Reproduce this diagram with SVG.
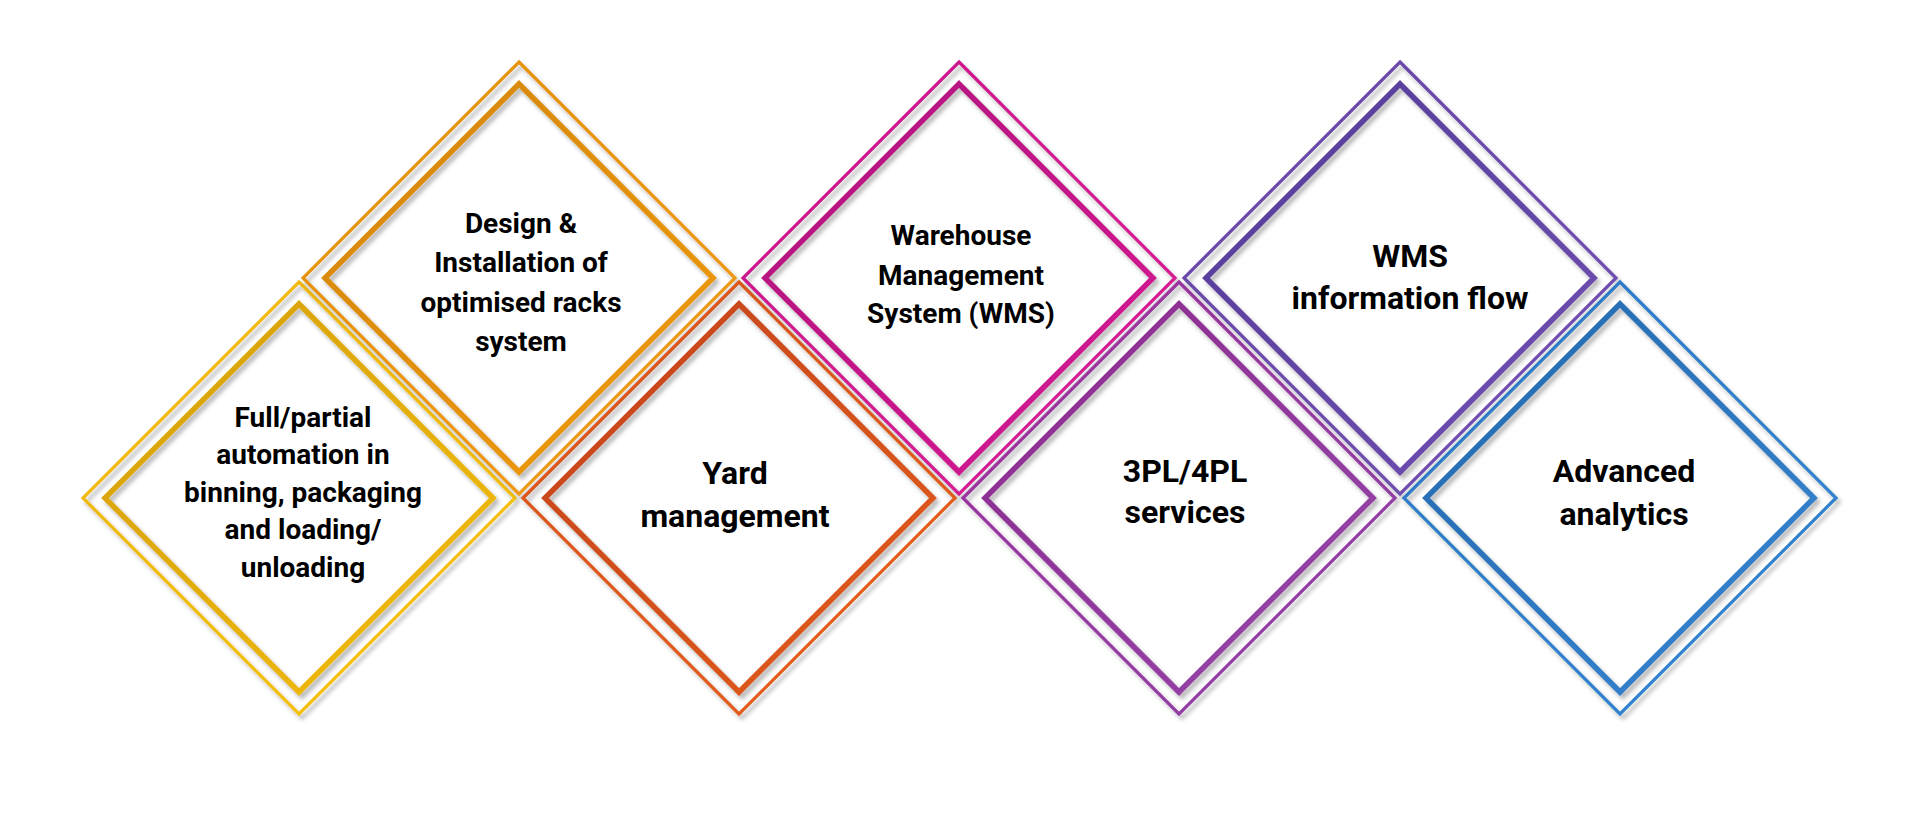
<svg xmlns="http://www.w3.org/2000/svg" xmlns:xlink="http://www.w3.org/1999/xlink" width="1920" height="827" viewBox="0 0 1920 827">
<style>
.outer{fill:none;stroke-width:3.2;stroke-linejoin:miter;filter:url(#sh)}
.inner{fill:none;stroke-width:5.5;stroke-linejoin:miter;filter:url(#sh)}
.t{font-family:Roboto,"Liberation Sans",sans-serif;font-weight:700;fill:#000;text-anchor:middle}
.s{font-size:28px}
.l{font-size:32px}
</style>
<defs>
<filter id="sh" x="-10%" y="-10%" width="125%" height="125%">
<feDropShadow dx="3" dy="4" stdDeviation="2" flood-color="#000" flood-opacity="0.28"/>
</filter>
<path id="dO" d="M0,-216 L216,0 L0,216 L-216,0 Z"/>
<path id="dI" d="M0,-194 L194,0 L0,194 L-194,0 Z"/>
<linearGradient id="g1o" x1="0" y1="0" x2="1" y2="1"><stop offset="0" stop-color="#EDB512"/><stop offset="1" stop-color="#F6C210"/></linearGradient>
<linearGradient id="g1i" x1="0" y1="0" x2="1" y2="1"><stop offset="0" stop-color="#D49E0C"/><stop offset="1" stop-color="#F4BC0E"/></linearGradient>
<linearGradient id="g2o" x1="0" y1="0" x2="1" y2="1"><stop offset="0" stop-color="#E2900F"/><stop offset="1" stop-color="#F09A14"/></linearGradient>
<linearGradient id="g2i" x1="0" y1="0" x2="1" y2="1"><stop offset="0" stop-color="#D3850B"/><stop offset="1" stop-color="#F09B12"/></linearGradient>
<linearGradient id="g3o" x1="0" y1="0" x2="1" y2="1"><stop offset="0" stop-color="#D9531C"/><stop offset="1" stop-color="#E55E1E"/></linearGradient>
<linearGradient id="g3i" x1="0" y1="0" x2="1" y2="1"><stop offset="0" stop-color="#C2441A"/><stop offset="1" stop-color="#E45C1E"/></linearGradient>
<linearGradient id="g4o" x1="0" y1="0" x2="1" y2="1"><stop offset="0" stop-color="#C8178A"/><stop offset="1" stop-color="#D81E95"/></linearGradient>
<linearGradient id="g4i" x1="0" y1="0" x2="1" y2="1"><stop offset="0" stop-color="#AE127C"/><stop offset="1" stop-color="#D81C93"/></linearGradient>
<linearGradient id="g5o" x1="0" y1="0" x2="1" y2="1"><stop offset="0" stop-color="#9E2E9E"/><stop offset="1" stop-color="#8E42A6"/></linearGradient>
<linearGradient id="g5i" x1="0" y1="0" x2="1" y2="1"><stop offset="0" stop-color="#8C2A8E"/><stop offset="1" stop-color="#9646AA"/></linearGradient>
<linearGradient id="g6o" x1="0" y1="0" x2="1" y2="1"><stop offset="0" stop-color="#6446A6"/><stop offset="1" stop-color="#7050B2"/></linearGradient>
<linearGradient id="g6i" x1="0" y1="0" x2="1" y2="1"><stop offset="0" stop-color="#543B98"/><stop offset="1" stop-color="#7050B2"/></linearGradient>
<linearGradient id="g7o" x1="0" y1="0" x2="1" y2="1"><stop offset="0" stop-color="#2C78C4"/><stop offset="1" stop-color="#3384D0"/></linearGradient>
<linearGradient id="g7i" x1="0" y1="0" x2="1" y2="1"><stop offset="0" stop-color="#2868AE"/><stop offset="1" stop-color="#3486D2"/></linearGradient>
</defs>
<rect width="1920" height="827" fill="#fff"/>
<g id="connectors"></g>

<g id="node-automation" transform="translate(299,498)">
<use href="#dO" class="outer" stroke="url(#g1o)"/>
<use href="#dI" class="inner" stroke="url(#g1i)"/>
<text class="t s" x="4" y="-71.3">Full/partial</text>
<text class="t s" x="4" y="-33.7">automation in</text>
<text class="t s" x="4" y="3.7">binning, packaging</text>
<text class="t s" x="4" y="41.3">and loading/</text>
<text class="t s" x="4" y="78.7">unloading</text>
</g>

<g id="node-racks" transform="translate(519,278)">
<use href="#dO" class="outer" stroke="url(#g2o)"/>
<use href="#dI" class="inner" stroke="url(#g2i)"/>
<text class="t s" x="2" y="-45.3">Design &amp;</text>
<text class="t s" x="2" y="-5.7">Installation of</text>
<text class="t s" x="2" y="33.7">optimised racks</text>
<text class="t s" x="2" y="73">system</text>
</g>

<g id="node-yard" transform="translate(739,498)">
<use href="#dO" class="outer" stroke="url(#g3o)"/>
<use href="#dI" class="inner" stroke="url(#g3i)"/>
<text class="t l" x="-4" y="-14">Yard</text>
<text class="t l" x="-4" y="29">management</text>
</g>

<g id="node-wms" transform="translate(959,278)">
<use href="#dO" class="outer" stroke="url(#g4o)"/>
<use href="#dI" class="inner" stroke="url(#g4i)"/>
<text class="t s" x="2" y="-33">Warehouse</text>
<text class="t s" x="2" y="7">Management</text>
<text class="t s" x="2" y="45.3">System (WMS)</text>
</g>

<g id="node-3pl" transform="translate(1179,498)">
<use href="#dO" class="outer" stroke="url(#g5o)"/>
<use href="#dI" class="inner" stroke="url(#g5i)"/>
<text class="t l" x="6" y="-16.3">3PL/4PL</text>
<text class="t l" x="6" y="25">services</text>
</g>

<g id="node-wmsflow" transform="translate(1400,278)">
<use href="#dO" class="outer" stroke="url(#g6o)"/>
<use href="#dI" class="inner" stroke="url(#g6i)"/>
<text class="t l" x="10" y="-11.3">WMS</text>
<text class="t l" x="10" y="31">information flow</text>
</g>

<g id="node-analytics" transform="translate(1620,498)">
<use href="#dO" class="outer" stroke="url(#g7o)"/>
<use href="#dI" class="inner" stroke="url(#g7i)"/>
<text class="t l" x="4" y="-15.7">Advanced</text>
<text class="t l" x="4" y="27">analytics</text>
</g>
</svg>
